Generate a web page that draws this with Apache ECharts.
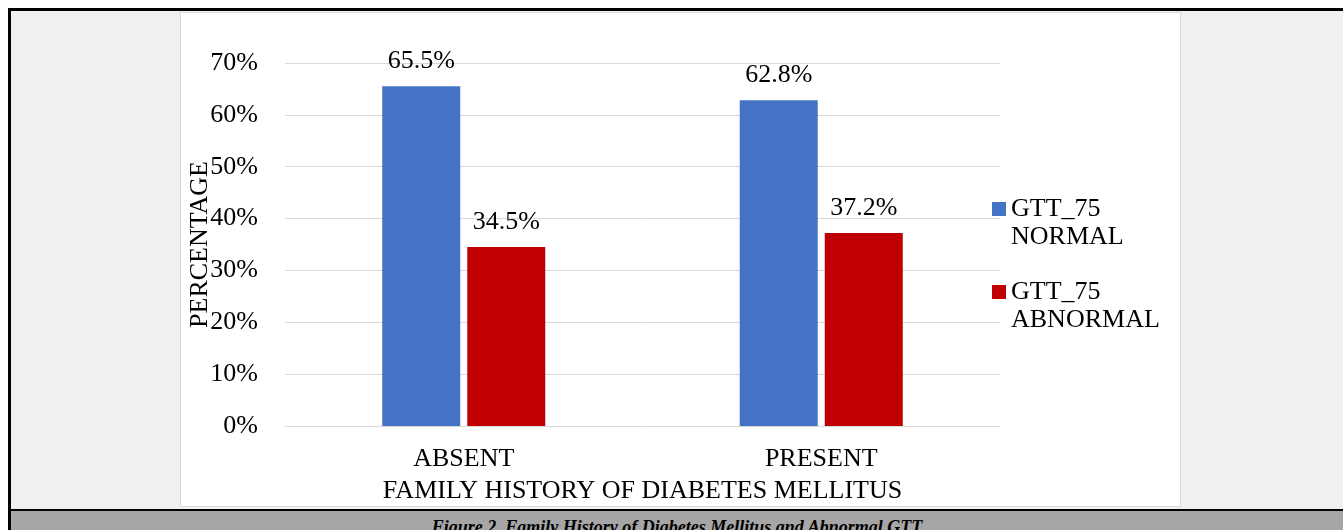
<!DOCTYPE html>
<html>
<head>
<meta charset="utf-8">
<script src="https://cdn.jsdelivr.net/npm/echarts@6/dist/echarts.min.js"></script>
<style>
  html, body { margin: 0; padding: 0; width: 1343px; height: 530px; overflow: hidden; background: #fff; }
  #frame { position: absolute; left: 8px; top: 8px; width: 1335px; height: 501px; background: #f0f0f0;
           border-left: 3px solid #000; border-top: 3px solid #000; box-sizing: border-box; }
  #panel { position: absolute; left: 180px; top: 12px; width: 1001px; height: 495px; background: #fff;
           border: 1px solid #d9d9d9; box-sizing: border-box; }
  #capline { position: absolute; left: 8px; top: 509px; width: 1335px; height: 2px; background: #000; }
  #caption { position: absolute; left: 8px; top: 511px; width: 1335px; height: 19px; background: #a6a6a6;
             border-left: 3px solid #000; box-sizing: border-box; overflow: hidden;
             font: italic bold 18px "Liberation Serif", serif; text-align: center; line-height: 32px; color: #000; }
  #main { position: absolute; left: 0; top: 0; width: 1343px; height: 530px; }
</style>
</head>
<body>
<div id="frame"></div>
<div id="panel"></div>
<div id="capline"></div>
<div id="caption">Figure 2. Family History of Diabetes Mellitus and Abnormal GTT</div>
<div id="main"></div>
<script>
  var categories = ['ABSENT', 'PRESENT'];
  var normalValues = [65.5, 62.8];
  var abnormalValues = [34.5, 37.2];
  var seriesNames = ['GTT_75 NORMAL', 'GTT_75 ABNORMAL'];

  var FONT = '"Liberation Serif", "Times New Roman", serif';
  var chart = echarts.init(document.getElementById('main'));

  var label = {
    show: true,
    position: 'top',
    distance: 12,
    fontFamily: FONT,
    fontSize: 26,
    color: '#000',
    formatter: function (p) { return p.value.toFixed(1) + '%'; }
  };

  var option = {
    backgroundColor: 'transparent',
    animation: false,
    grid: { left: 285, right: 343, top: 63, bottom: 104 },
    legend: {
      orient: 'vertical',
      left: 992,
      top: 167,
      padding: 0,
      itemGap: -1,
      itemWidth: 14,
      itemHeight: 14,
      icon: 'rect',
      data: seriesNames,
      formatter: function (name) {
        // blank first line so the first text line sits level with the square
        return ' \n' + name.replace(' ', '\n');
      },
      textStyle: { fontFamily: FONT, fontSize: 26, color: '#000', lineHeight: 28 }
    },
    xAxis: {
      type: 'category',
      data: categories,
      name: 'FAMILY HISTORY OF DIABETES MELLITUS',
      nameLocation: 'middle',
      nameGap: 52,
      nameMoveOverlap: false,
      nameTextStyle: { fontFamily: FONT, fontSize: 26, color: '#000' },
      axisLine: { lineStyle: { color: '#d9d9d9', width: 1 } },
      axisTick: { show: false },
      axisLabel: { fontFamily: FONT, fontSize: 26, color: '#000', margin: 20 }
    },
    yAxis: {
      type: 'value',
      min: 0,
      max: 70,
      interval: 10,
      name: 'PERCENTAGE',
      nameLocation: 'middle',
      nameGap: 72,
      nameMoveOverlap: false,
      nameTextStyle: { fontFamily: FONT, fontSize: 26, color: '#000' },
      axisLine: { show: false },
      axisTick: { show: false },
      splitLine: { lineStyle: { color: '#d9d9d9', width: 1 } },
      axisLabel: { fontFamily: FONT, fontSize: 26, color: '#000', margin: 27, formatter: '{value}%' }
    },
    series: [
      {
        name: seriesNames[0],
        type: 'bar',
        data: normalValues,
        barWidth: 78,
        barGap: '9%',
        itemStyle: { color: '#4472C4' },
        label: label
      },
      {
        name: seriesNames[1],
        type: 'bar',
        data: abnormalValues,
        barWidth: 78,
        barGap: '9%',
        itemStyle: { color: '#C00000' },
        label: label
      }
    ]
  };
  chart.setOption(option);
</script>
</body>
</html>
